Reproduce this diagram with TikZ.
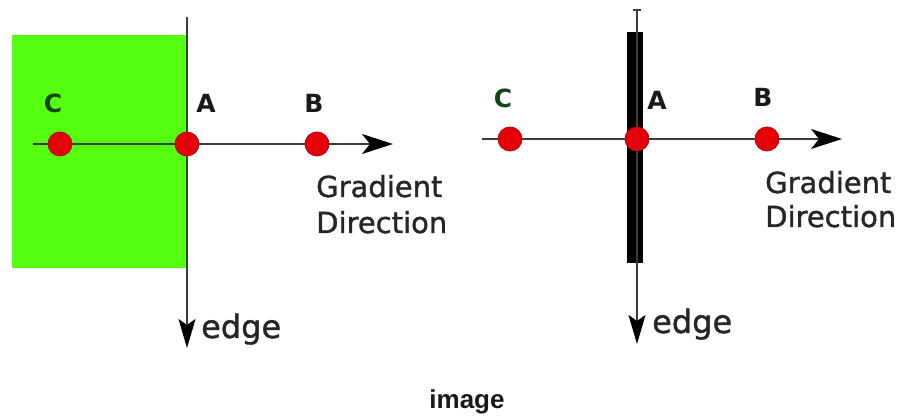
\documentclass[tikz,border=0pt]{standalone}
\usepackage{fontspec}
\setmainfont{DejaVu Sans}
\newfontfamily\labfont[FakeBold=1.2]{DejaVu Sans}
\newfontfamily\capfont{Liberation Sans}
\usetikzlibrary{arrows.meta}
\definecolor{edgegreen}{RGB}{85,255,17}
\definecolor{dotred}{RGB}{228,0,8}
\definecolor{axisgray}{RGB}{60,60,60}
\definecolor{labgreen}{RGB}{20,70,20}
\tikzset{
  axis/.style={draw=axisgray, line width=1.7pt},
  harrow/.style={axis, -{Stealth[length=31pt,width=20pt,inset=8pt,color=black]}},
  varrow/.style={axis, -{Stealth[length=29pt,width=17pt,inset=6pt,color=black]}},
  dot/.style={circle, fill=dotred, draw=dotred!80!black, line width=0.8pt, minimum size=24pt, inner sep=0pt},
  letter/.style={font=\bfseries\fontsize{25}{30}\selectfont, inner sep=0pt, anchor=base, text=black!90},
  gradtext/.style={font=\labfont\fontsize{29}{36}\selectfont, inner sep=0pt, anchor=base west, align=left, text=black!85},
  edgetext/.style={font=\labfont\fontsize{32}{38}\selectfont, inner sep=0pt, anchor=base west, text=black!85},
}
\begin{document}
\begin{tikzpicture}[x=1pt, y=-1pt]
\useasboundingbox[fill=white] (0,0) rectangle (906,419);
% ---------- left panel ----------
\fill[edgegreen] (12,35) rectangle (187,268);
\coordinate (lvt) at (187,17);
\coordinate (lvb) at (187,348);
\coordinate (lhs) at (33,144);
\coordinate (lhe) at (393,144);
\draw[varrow] (lvt) -- (lvb);
\draw[harrow] (lhs) -- (lhe);
\node[dot] (lC) at (60,144) {};
\node[dot] (lA) at (187,144) {};
\node[dot] (lB) at (317,144) {};
\node[letter, text=labgreen] (lCl) at (53,113) {C};
\node[letter] (lAl) at (206,113) {A};
\node[letter] (lBl) at (314,113) {B};
\node[gradtext] (lgrad) at (316,197) {Gradient};
\node[gradtext] (ldir) at (316,233) {Direction};
\node[edgetext] (ledge) at (201,338) {edge};
% ---------- right panel ----------
\fill[black] (627,32) rectangle (643,263);
\coordinate (rvt) at (637,10);
\coordinate (rvb) at (637,344);
\coordinate (rhs) at (482,139);
\coordinate (rhe) at (842,139);
\draw[varrow] (rvt) -- (rvb);
\draw[axisgray, line width=1.5pt] (633,10) -- (641,10);
\draw[harrow] (rhs) -- (rhe);
\node[dot] (rC) at (510,139) {};
\node[dot] (rA) at (637,139) {};
\node[dot] (rB) at (767,139) {};
\node[letter, text=labgreen] (rCl) at (503,108) {C};
\node[letter] (rAl) at (657,110) {A};
\node[letter] (rBl) at (763,107) {B};
\node[gradtext] (rgrad) at (765,193) {Gradient};
\node[gradtext] (rdir) at (765,227) {Direction};
\node[edgetext] (redge) at (652,333) {edge};
% ---------- caption ----------
\node[font=\capfont\bfseries\fontsize{26}{30}\selectfont, inner sep=0pt, anchor=base, text=black!90] (cap) at (467,409) {image};
\end{tikzpicture}
\end{document}
